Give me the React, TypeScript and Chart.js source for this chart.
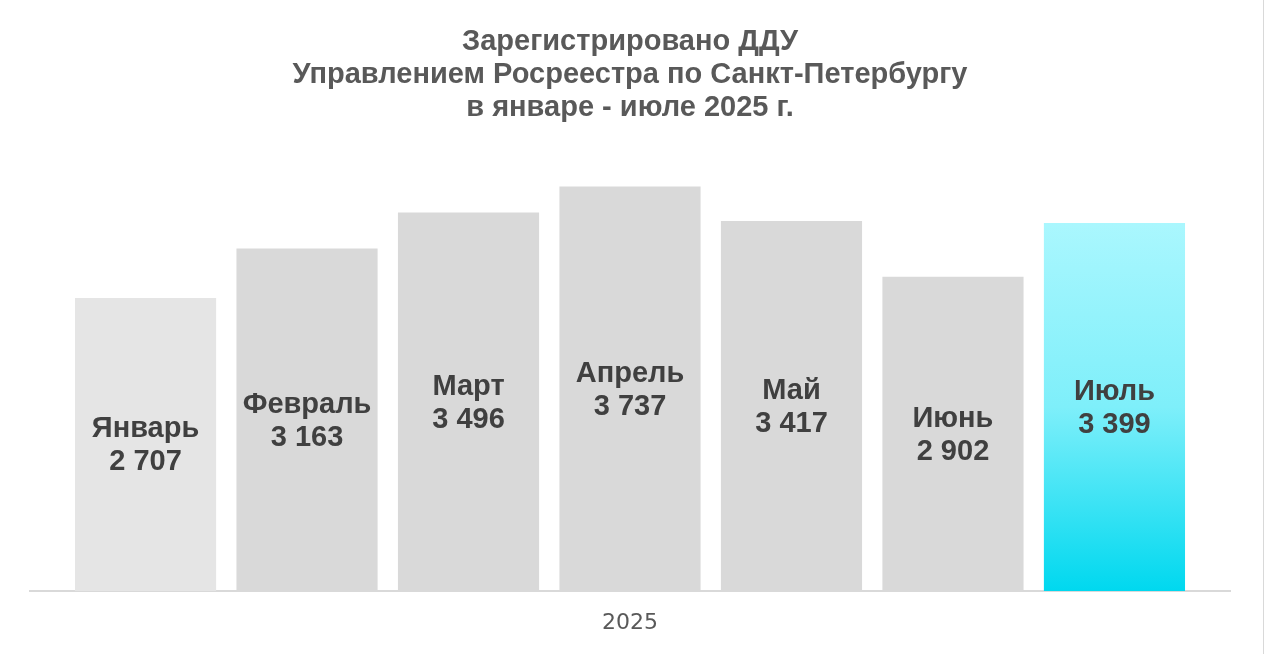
import React, { useEffect, useRef } from "react";
import { Chart, registerables } from "chart.js";

Chart.register(...registerables);

const categories = ["2025"];
const months = ["Январь", "Февраль", "Март", "Апрель", "Май", "Июнь", "Июль"];
const values = [2707, 3163, 3496, 3737, 3417, 2902, 3399];
const valueLabels = ["2 707", "3 163", "3 496", "3 737", "3 417", "2 902", "3 399"];
const barColors = ["#e5e5e5", "#d9d9d9", "#d9d9d9", "#d9d9d9", "#d9d9d9", "#d9d9d9", "gradient"];
const titleLines = [
  "Зарегистрировано ДДУ",
  "Управлением Росреестра по Санкт-Петербургу",
  "в январе - июле 2025 г.",
];

const FONT = "'Liberation Sans', Arial, sans-serif";

const barLabelPlugin = {
  id: "barLabels",
  afterDatasetsDraw(chart: any) {
    const ctx = chart.ctx;
    ctx.save();
    ctx.font = `bold 29px ${FONT}`;
    ctx.fillStyle = "#404040";
    ctx.textAlign = "center";
    ctx.textBaseline = "middle";
    chart.data.datasets.forEach((ds: any, i: number) => {
      const meta = chart.getDatasetMeta(i);
      const bar = meta.data[0];
      if (!bar) return;
      const { x, y, base } = bar.getProps(["x", "y", "base"], true);
      const cy = (y + base) / 2;
      ctx.fillText(months[i], x, cy - 15);
      ctx.fillText(valueLabels[i], x, cy + 18);
    });
    ctx.restore();
  },
  afterDraw(chart: any) {
    const ctx = chart.ctx;
    ctx.save();
    ctx.strokeStyle = "#d9d9d9";
    ctx.lineWidth = 1;
    ctx.beginPath();
    ctx.moveTo(chart.width - 0.5, 0);
    ctx.lineTo(chart.width - 0.5, chart.height);
    ctx.stroke();
    ctx.restore();
  },
};

export default function App() {
  const ref = useRef<HTMLCanvasElement>(null);
  useEffect(() => {
    document.body.style.margin = "0";
    const canvas = ref.current!;
    const chart = new Chart(canvas, {
      type: "bar",
      data: {
        labels: categories,
        datasets: months.map((m, i) => ({
          label: m,
          data: [values[i]],
          backgroundColor: (c: any) => {
            if (barColors[i] !== "gradient") return barColors[i];
            const ch = c.chart;
            const yScale = ch.scales?.y;
            if (!ch.chartArea || !yScale) return "#4fe6f6";
            const top = yScale.getPixelForValue(values[i]);
            const bottom = yScale.getPixelForValue(0);
            if (!isFinite(top) || !isFinite(bottom)) return "#4fe6f6";
            const g = ch.ctx.createLinearGradient(0, top, 0, bottom);
            g.addColorStop(0, "#aaf7fe");
            g.addColorStop(0.5, "#7eeffa");
            g.addColorStop(1, "#00d8ef");
            return g;
          },
          borderWidth: 0,
          categoryPercentage: 0.942,
          barPercentage: 0.874,
        })),
      },
      options: {
        responsive: false,
        animation: false,
        layout: { padding: { left: 30, right: 34, top: 0, bottom: 0 } },
        plugins: {
          legend: { display: false },
          tooltip: { enabled: false },
          title: {
            display: true,
            text: titleLines,
            color: "#595959",
            font: { family: FONT, size: 29, weight: "bold", lineHeight: 1.138 },
            padding: { top: 25, bottom: 34 },
          },
        },
        scales: {
          x: {
            grid: { display: false, drawTicks: false },
            border: { display: true, color: "#d9d9d9", width: 2 },
            ticks: {
              color: "#595959",
              font: { family: "'DejaVu Sans', sans-serif", size: 22 },
              padding: 19,
            },
            afterFit: (scale: any) => {
              scale.height = 63;
            },
          },
          y: {
            display: false,
            min: 0,
            max: 4000,
          },
        },
      },
      plugins: [barLabelPlugin],
    });
    return () => chart.destroy();
  }, []);
  return (
    <div style={{ width: 1264, height: 654, background: "#fff" }}>
      <canvas ref={ref} width={1264} height={654} style={{ display: "block" }} />
    </div>
  );
}
